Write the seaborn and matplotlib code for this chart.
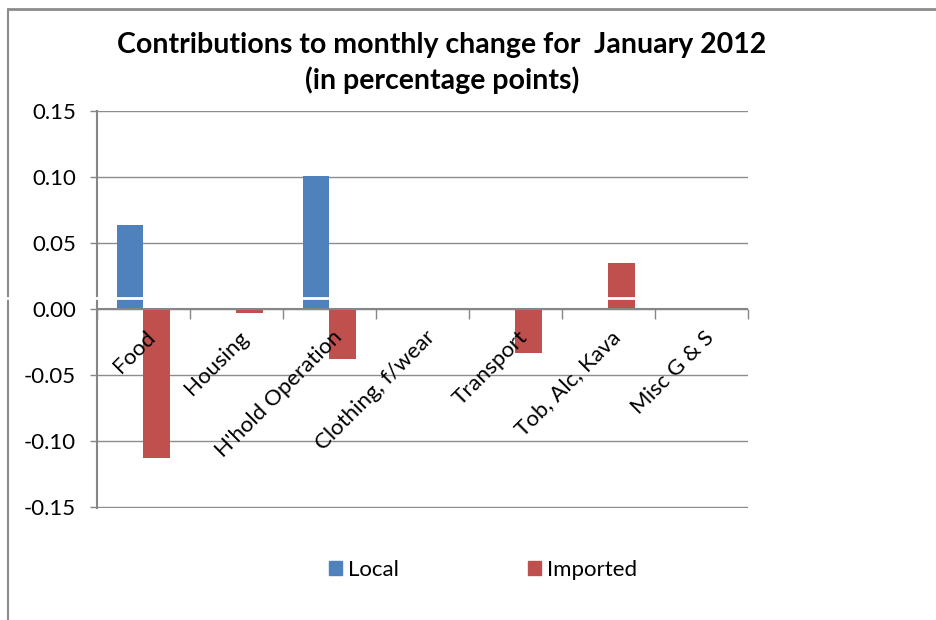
import pandas as pd
import numpy as np
import matplotlib
matplotlib.use("Agg")
import matplotlib.pyplot as plt
import matplotlib.patches as mpatches
import matplotlib.transforms as mtransforms
from matplotlib.lines import Line2D
from matplotlib.ticker import FormatStrFormatter, FixedLocator
import seaborn as sns

#%% DATOS
categorias = ["Food", "Housing", "H'hold Operation", "Clothing, f/wear",
              "Transport", "Tob, Alc, Kava", "Misc G & S"]
local = [0.064, 0.0, 0.101, 0.0, 0.0, 0.0, 0.0]
importado = [-0.113, -0.003, -0.038, 0.0, -0.033, 0.035, 0.0]
series = ["Local", "Imported"]
colores = ["#4F81BD", "#C0504D"]
y_ticks = [-0.15, -0.10, -0.05, 0.0, 0.05, 0.10, 0.15]

df = pd.DataFrame({
    "categoria": categorias * 2,
    "serie": [series[0]] * len(categorias) + [series[1]] * len(categorias),
    "valor": local + importado,
})

#%% GRAFICO
sns.set_style("white")
plt.rcParams["font.family"] = ["Lato", "DejaVu Sans"]
plt.rcParams["axes.unicode_minus"] = False
plt.rcParams["text.color"] = "black"
plt.rcParams["xtick.color"] = "black"
plt.rcParams["ytick.color"] = "black"

fig = plt.figure(figsize=(9.37, 6.2), dpi=100)
ax = fig.add_axes([97/937, 1 - 508/620, (748 - 97)/937, (508 - 111)/620])

sns.barplot(data=df, x="categoria", y="valor", hue="serie", palette=colores,
            saturation=1, width=0.58, gap=0, linewidth=0, legend=False,
            ax=ax, zorder=2)

ax.set_ylim(-0.1505, 0.15)
ax.set_xlim(-0.5, len(categorias) - 0.5)
ax.yaxis.set_major_locator(FixedLocator(y_ticks))
ax.yaxis.set_major_formatter(FormatStrFormatter("%.2f"))
ax.grid(axis="y", color="#8C8C8C", linewidth=1, zorder=0)
ax.axhline(0, color="#868686", linewidth=1.5, zorder=4)

for s in ["top", "right"]:
    ax.spines[s].set_visible(False)
ax.spines["left"].set_color("#868686")
ax.spines["left"].set_linewidth(1.5)
# el eje x va en y=0 (antes de poner las etiquetas)
ax.spines["bottom"].set_position(("data", 0))
ax.spines["bottom"].set_visible(False)
ax.xaxis.set_zorder(10)

ax.set_xlabel("")
ax.set_ylabel("")
ax.tick_params(axis="y", left=True, length=5, width=1, color="#868686",
               labelsize=16, labelcolor="black", pad=10)

# etiquetas en el centro, marcas entre categorias
ax.set_xticks(range(len(categorias)))
ax.set_xticklabels(categorias, rotation=45, ha="right", va="center",
                   rotation_mode="anchor", fontsize=16, color="black")
ax.tick_params(axis="x", which="major", length=0, pad=0)
ax.set_xticks(np.arange(-0.5, len(categorias), 1), minor=True)
ax.tick_params(axis="x", which="minor", bottom=True, length=7, width=1,
               color="#868686")
offset = mtransforms.ScaledTranslation(0.09, -0.25, fig.dpi_scale_trans)
for lab in ax.get_xticklabels():
    lab.set_transform(lab.get_transform() + offset)

fig.text(442/937, 1 - 45/620, "Contributions to monthly change for  January 2012",
         ha="center", va="center", fontsize=20.5, fontweight="bold", color="black")
fig.text(442/937, 1 - 80/620, "(in percentage points)",
         ha="center", va="center", fontsize=20.5, fontweight="bold", color="black")

handles = [mpatches.Patch(color=c, label=s) for c, s in zip(colores, series)]
fig.legend(handles=handles, loc="center", bbox_to_anchor=(483/937, 1 - 570/620),
           ncol=2, frameon=False, fontsize=16, handlelength=0.59, handleheight=0.59,
           handletextpad=0.27, columnspacing=5.8)

# marco del grafico y linea blanca
fig.add_artist(Line2D([8/937, 1], [1 - 9/620, 1 - 9/620], color="#8C8C8C",
                      linewidth=2, transform=fig.transFigure))
fig.add_artist(Line2D([8/937, 8/937], [0, 1 - 9/620], color="#8C8C8C",
                      linewidth=1.5, transform=fig.transFigure))
fig.add_artist(Line2D([0, 1], [1 - 298/620, 1 - 298/620], color="white",
                      linewidth=2, transform=fig.transFigure, zorder=10))

fig.savefig("out.png", dpi=100, facecolor="white")
